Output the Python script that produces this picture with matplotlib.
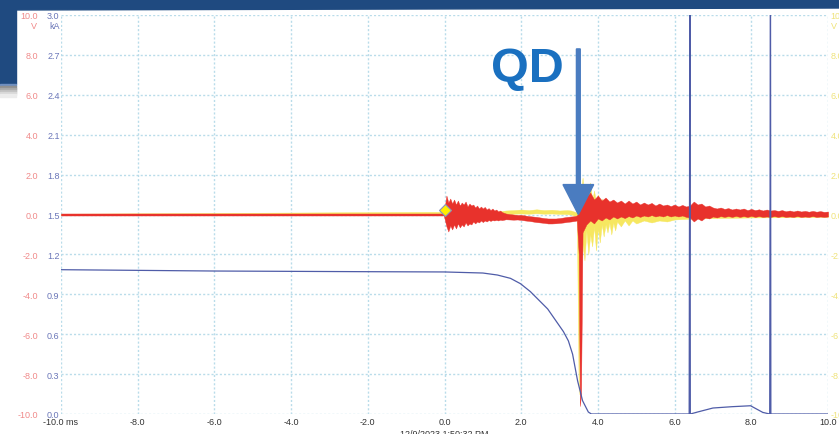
import matplotlib as mpl
mpl.use('Agg')
import matplotlib.pyplot as plt
from matplotlib.patches import Rectangle, Polygon

plt.rcParams['font.family'] = ['Liberation Sans', 'DejaVu Sans']

# ---------------- data ----------------
# red voltage trace envelope (V)
red_t = [-10, -5, -0.02,
         0.0, 0.05, 0.1, 0.15, 0.2, 0.25, 0.3, 0.35, 0.4, 0.45, 0.5, 0.55, 0.6, 0.65, 0.7,
         0.75, 0.8, 0.85, 0.9, 0.95, 1.0, 1.05, 1.1, 1.15, 1.2, 1.25, 1.3, 1.35, 1.4, 1.45, 1.5,
         1.6, 1.7, 1.8, 1.9, 2.0, 2.1, 2.2, 2.3, 2.4, 2.5, 2.6, 2.7, 2.8, 2.9, 3.0, 3.1, 3.2,
         3.3, 3.4, 3.45, 3.5, 3.53, 3.56,
         3.6, 3.7, 3.8, 3.9, 4.0, 4.1, 4.2, 4.3, 4.4, 4.5, 4.6, 4.7, 4.8, 4.9, 5.0, 5.1, 5.2,
         5.3, 5.4, 5.5, 5.6, 5.7, 5.8, 5.9, 6.0, 6.1, 6.2, 6.3, 6.4, 6.5, 6.6, 6.7, 6.8, 6.9,
         7.0, 7.1, 7.2, 7.3, 7.4, 7.5, 7.6, 7.7, 7.8, 7.9, 8.0, 8.1, 8.2, 8.3, 8.4, 8.5, 8.6,
         8.7, 8.8, 8.9, 9.0, 9.1, 9.2, 9.3, 9.4, 9.5, 9.6, 9.7, 9.8, 9.9, 10.0]
red_hi = [0.05, 0.05, 0.05,
          0.3, 0.95, 0.6, 0.8, 0.55, 0.75, 0.5, 0.7, 0.45, 0.6, 0.5, 0.65, 0.4, 0.55, 0.45,
          0.5, 0.35, 0.45, 0.3, 0.4, 0.3, 0.38, 0.25, 0.32, 0.22, 0.3, 0.2, 0.25, 0.15, 0.2, 0.12,
          0.05, 0.02, 0.0, -0.02, -0.02, -0.05, -0.08, -0.1, -0.12, -0.15, -0.18, -0.2, -0.2, -0.2, -0.18, -0.15, -0.12,
          -0.1, -0.08, -0.05, 0.1, 0.5, 1.0,
          1.3, 0.9, 1.1, 0.75, 0.95, 0.7, 0.85, 0.65, 0.75, 0.6, 0.7, 0.55, 0.7, 0.55, 0.65, 0.5, 0.6,
          0.5, 0.58, 0.45, 0.55, 0.45, 0.5, 0.42, 0.5, 0.4, 0.48, 0.4, 0.45, 0.65, 0.5, 0.55, 0.4, 0.45,
          0.35, 0.3, 0.35, 0.28, 0.32, 0.25, 0.3, 0.25, 0.3, 0.22, 0.28, 0.22, 0.26, 0.2, 0.25, 0.2, 0.22,
          0.18, 0.22, 0.16, 0.2, 0.15, 0.2, 0.15, 0.18, 0.14, 0.18, 0.14, 0.17, 0.13, 0.15]
red_lo = [-0.05, -0.05, -0.05,
          -0.2, -0.6, -0.85, -0.55, -0.75, -0.5, -0.7, -0.45, -0.65, -0.5, -0.6, -0.4, -0.55, -0.45, -0.5,
          -0.35, -0.45, -0.35, -0.4, -0.3, -0.38, -0.3, -0.35, -0.28, -0.32, -0.28, -0.3, -0.27, -0.3, -0.26, -0.28,
          -0.24, -0.25, -0.26, -0.25, -0.27, -0.3, -0.32, -0.35, -0.38, -0.4, -0.42, -0.45, -0.45, -0.44, -0.42, -0.4, -0.37,
          -0.35, -0.32, -0.3, -2.0, -9.6, -9.0,
          -0.9, -0.5, -0.3, -0.45, -0.2, -0.3, -0.15, -0.25, -0.1, -0.2, -0.1, -0.18, -0.08, -0.15, -0.05, -0.12, -0.05,
          -0.1, -0.03, -0.1, -0.05, -0.1, -0.03, -0.1, -0.05, -0.1, -0.05, -0.12, -0.15, -0.35, -0.2, -0.3, -0.15, -0.2,
          -0.1, -0.15, -0.08, -0.12, -0.08, -0.12, -0.07, -0.12, -0.08, -0.12, -0.07, -0.12, -0.08, -0.12, -0.1, -0.12, -0.08,
          -0.12, -0.08, -0.12, -0.1, -0.12, -0.08, -0.12, -0.1, -0.12, -0.08, -0.12, -0.1, -0.12, -0.1]

# yellow voltage trace envelope (V)
yel_t = [-10, 1.4, 1.6, 1.8, 2.0, 2.2, 2.4, 2.6, 2.8, 3.0, 3.2, 3.3, 3.45, 3.5,
         3.55, 3.6, 3.65, 3.7, 3.75, 3.8, 3.85, 3.9, 3.95, 4.0, 4.05, 4.1, 4.15, 4.2, 4.25,
         4.3, 4.35, 4.4, 4.45, 4.5, 4.6, 4.7, 4.8, 4.9, 5.0, 5.2, 5.4, 5.6, 5.8, 6.0, 6.5,
         7.0, 8.0, 10.0]
yel_hi = [0.04, 0.15, 0.2, 0.22, 0.25, 0.22, 0.26, 0.22, 0.24, 0.2, 0.22, 0.2, 0.1, 0.1,
          1.0, 1.85, 0.8, 1.5, 1.1, 1.6, 0.7, 1.2, 0.6, 1.0, 0.5, 0.8, 0.4, 0.7, 0.3,
          0.6, 0.3, 0.5, 0.3, 0.45, 0.3, 0.4, 0.25, 0.35, 0.2, 0.25, 0.2, 0.2, 0.15, 0.15, 0.1,
          0.1, 0.08, 0.08]
yel_lo = [-0.04, -0.02, 0.0, 0.04, 0.05, 0.04, 0.06, 0.04, 0.05, 0.03, 0.02, 0.0, -0.1, -9.0,
          -2.6, -1.5, -2.3, -0.8, -2.0, -1.0, -1.6, -0.6, -1.8, -0.7, -1.4, -0.5, -1.1, -0.5, -0.9,
          -0.4, -1.0, -0.4, -0.8, -0.35, -0.6, -0.3, -0.55, -0.3, -0.45, -0.3, -0.4, -0.3, -0.35, -0.25, -0.2,
          -0.18, -0.15, -0.12]

# blue current trace (kA)
cur_t = [-10, -6, -2, 0, 1.0, 1.38, 1.72, 1.98, 2.24, 2.69, 3.1, 3.23, 3.34, 3.47, 3.6,
         3.75, 3.83, 6.38, 6.4, 6.41, 6.6, 7.0, 7.5, 7.98, 8.3, 8.48, 8.5, 8.51, 10.0]
cur_kA = [1.085, 1.075, 1.07, 1.068, 1.06, 1.045, 1.02, 0.98, 0.92, 0.79, 0.62, 0.55, 0.45,
          0.25, 0.1, 0.015, 0.0, 0.0, 3.5, 0.0, 0.015, 0.045, 0.055, 0.062, 0.012, 0.0, 3.5, 0.0, 0.0]

x_ticks = [-10, -8, -6, -4, -2, 0, 2, 4, 6, 8, 10]
x_labels = ['-10.0 ms', '-8.0', '-6.0', '-4.0', '-2.0', '0.0', '2.0', '4.0', '6.0', '8.0', '10.0']
v_ticks = [-10, -8, -6, -4, -2, 0, 2, 4, 6, 8, 10]
v_labels = ['%.1f' % v for v in v_ticks]
ka_ticks = [0.0, 0.3, 0.6, 0.9, 1.2, 1.5, 1.8, 2.1, 2.4, 2.7, 3.0]
ka_labels = ['%.1f' % k for k in ka_ticks]

RED = '#e8322c'
YEL = '#f6e760'
BLU = '#4f5ca8'

W, H = 839, 435
fig = plt.figure(figsize=(W / 100, H / 100), dpi=100)
fig.patch.set_facecolor('white')

def fx(x):
    return x / W

def fy(y):
    return 1 - y / H

ax = fig.add_axes([fx(61), fy(415), fx(828) - fx(61), fy(16) - fy(415)])
ax.set_xlim(-10, 10)
ax.set_ylim(-10, 10)
for s in ax.spines.values():
    s.set_visible(False)
ax.set_xticks(x_ticks)
ax.set_xticklabels(x_labels)
ax.set_yticks(v_ticks)
ax.set_yticklabels(v_labels)
ax.tick_params(axis='x', length=0, pad=2, labelsize=6.5, colors='#333333')
ax.tick_params(axis='y', length=0, pad=16.5, labelsize=6.5, colors='#f08a8a')
ax.grid(True, color='#b9dcea', linestyle=(0, (1.5, 1.5)), linewidth=1)
ax.set_axisbelow(True)

# voltage traces
ax.fill_between(yel_t, yel_lo, yel_hi, color=YEL, lw=0.3, zorder=2)
ax.fill_between(red_t, red_lo, red_hi, color=RED, lw=0.3, zorder=3)
ax.plot([0.0], [0.25], marker='D', ms=6, mfc='#ffee00', mec='#8a8fc0', mew=0.8, zorder=5)

# QD arrow
ax.arrow(3.49, 8.3, 0, -8.3, width=0.1, head_width=0.8, head_length=1.5,
         length_includes_head=True, color='#4a7cc0', zorder=6)
ax.text(1.2, 6.7, 'QD', fontsize=35, fontweight='bold', color='#1a70c0', zorder=6)

# current on a twin axis, labels on the left
ax2 = ax.twinx()
ax2.set_ylim(0, 3.0)
ax2.set_yticks(ka_ticks)
ax2.set_yticklabels(ka_labels)
ax2.yaxis.tick_left()
ax2.tick_params(axis='y', length=0, pad=1, labelsize=6.5, colors='#6a76b8')
for s in ax2.spines.values():
    s.set_visible(False)
ax2.plot(cur_t, cur_kA, color=BLU, lw=0.9)

# yellow channel labels on the right
ax3 = ax.twinx()
ax3.set_ylim(-10, 10)
ax3.set_yticks(v_ticks)
ax3.set_yticklabels(v_labels)
ax3.tick_params(axis='y', length=0, pad=2, labelsize=6.5, colors='#efe37a')
for s in ax3.spines.values():
    s.set_visible(False)

fig.text(fx(37), fy(29), 'V', color='#f08a8a', fontsize=6.5, ha='right')
fig.text(fx(60), fy(29), 'kA', color='#6a76b8', fontsize=6.5, ha='right')
fig.text(fx(831), fy(29), 'V', color='#efe37a', fontsize=6.5, ha='left')
fig.text(fx(444), fy(437), '12/9/2023 1:50:32 PM', color='#333333', fontsize=6.5, ha='center')

# slide decoration: header bar and left tab
fig.add_artist(Polygon([[0, 1], [1, 1], [1, fy(9)], [0, fy(11)]], closed=True,
                       transform=fig.transFigure, color='#1f4a80', zorder=10))
fig.add_artist(Rectangle((0, fy(85)), fx(16), 1 - fy(85), transform=fig.transFigure,
                         color='#1f4a80', zorder=10))
fig.add_artist(Rectangle((0, fy(87)), fx(16), fy(85) - fy(87), transform=fig.transFigure,
                         color='#6f8fc0', zorder=10))
for i, g in enumerate(['#909090', '#a8a8a8', '#c0c0c0', '#d8d8d8', '#ececec']):
    fig.add_artist(Rectangle((0, fy(90 + 2 * i)), fx(16), fy(87) - fy(90), transform=fig.transFigure,
                             color=g, zorder=10))

plt.savefig('out.png', dpi=100)
